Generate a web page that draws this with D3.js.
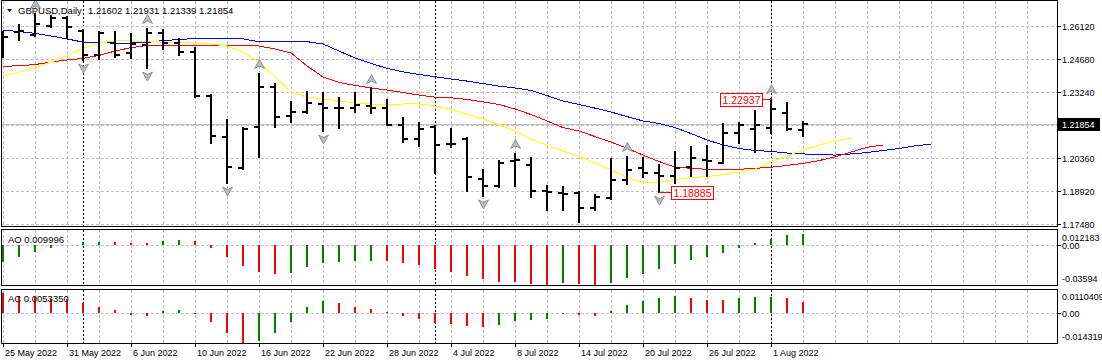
<!doctype html>
<html lang="en">
<head>
<meta charset="utf-8">
<script src="https://d3js.org/d3.v7.min.js"></script>
<style>
  body { margin: 0; background: #fff; }
  svg { display: block; background: #fff; font-family: "Liberation Sans", Arial, sans-serif; }
  .grid line { stroke: #c0c0c0; stroke-dasharray: 3,2; shape-rendering: crispEdges; }
  .sep line { stroke: #000; stroke-dasharray: 2,2; shape-rendering: crispEdges; }
  .frame { fill: none; stroke: #000; shape-rendering: crispEdges; }
  .bar line { stroke: #000; stroke-width: 2; shape-rendering: crispEdges; }
  .ma { fill: none; stroke-width: 1; shape-rendering: crispEdges; }
  .axis text { font-size: 9px; fill: #000; font-family: "Liberation Sans", Arial, sans-serif; }
  .axis line { stroke: #000; shape-rendering: crispEdges; }
</style>
</head>
<body>
<svg width="1102" height="364"></svg>
<script>
// trading days shown on the chart
const dates = [
  "2022-05-25","2022-05-26","2022-05-27","2022-05-30","2022-05-31",
  "2022-06-01","2022-06-02","2022-06-03","2022-06-06","2022-06-07","2022-06-08","2022-06-09","2022-06-10",
  "2022-06-13","2022-06-14","2022-06-15","2022-06-16","2022-06-17","2022-06-20","2022-06-21","2022-06-22",
  "2022-06-23","2022-06-24","2022-06-27","2022-06-28","2022-06-29","2022-06-30",
  "2022-07-01","2022-07-04","2022-07-05","2022-07-06","2022-07-07","2022-07-08","2022-07-11","2022-07-12",
  "2022-07-13","2022-07-14","2022-07-15","2022-07-18","2022-07-19","2022-07-20","2022-07-21","2022-07-22",
  "2022-07-25","2022-07-26","2022-07-27","2022-07-28","2022-07-29",
  "2022-08-01","2022-08-02","2022-08-03"
];

const open = [1.2561,1.2587,1.2574,1.2613,1.2648,1.2592,1.2487,1.2539,1.2496,1.2530,
  1.2583,1.2539,1.2500,1.2308,1.2129,1.1994,1.2173,1.2347,1.2221,1.2238,
  1.2273,1.2256,1.2255,1.2264,1.2256,1.2181,1.2120,1.2173,1.2098,1.2120,
  1.1946,1.1915,1.2024,1.2007,1.1893,1.1885,1.1885,1.1819,1.1863,1.1941,
  1.1992,1.1973,1.1959,1.1998,1.2029,1.2016,1.2146,1.2164,1.2168,1.2234,1.21602];
const high = [1.2587,1.2618,1.2666,1.2657,1.2653,1.2594,1.2585,1.2587,1.2578,1.2600,
  1.2596,1.2557,1.2517,1.2312,1.2203,1.2168,1.2404,1.2360,1.2282,1.2325,
  1.2321,1.2299,1.2321,1.2338,1.2290,1.2212,1.2190,1.2177,1.2164,1.2125,
  1.1985,1.2024,1.2055,1.2037,1.1915,1.1911,1.1889,1.1876,1.2033,1.2042,
  1.2037,1.2007,1.2064,1.2085,1.2090,1.2186,1.2190,1.2242,1.22937,1.2277,1.21931];
const low = [1.2478,1.2552,1.2570,1.2609,1.2561,1.2465,1.2469,1.2478,1.2474,1.2430,
  1.2513,1.2487,1.2304,1.2103,1.1928,1.1989,1.2042,1.2173,1.2194,1.2234,
  1.2155,1.2168,1.2238,1.2234,1.2181,1.2107,1.2090,1.1972,1.2085,1.1893,
  1.1872,1.1911,1.1915,1.1867,1.1810,1.1810,1.1758,1.1810,1.1858,1.1924,
  1.1954,1.18885,1.1928,1.1959,1.1959,1.2016,1.2103,1.2064,1.2146,1.2160,1.21339];
const close = [1.2565,1.2592,1.2622,1.2648,1.2609,1.2487,1.2583,1.2487,1.2535,1.2583,
  1.2539,1.2500,1.2308,1.2133,1.1998,1.2164,1.2347,1.2216,1.2238,1.2277,
  1.2256,1.2255,1.2269,1.2256,1.2181,1.2120,1.2164,1.2094,1.2100,1.1954,
  1.1915,1.2016,1.2029,1.1893,1.1890,1.1880,1.1819,1.1867,1.1941,1.1985,
  1.1973,1.1959,1.1994,1.2037,1.2024,1.2146,1.2181,1.2181,1.2251,1.2164,1.21854];

// alligator lines (jaw / teeth / lips), already shifted forward
const jaw = [1.2596,1.2589,1.2581,1.2570,1.2557,1.2543,1.2541,1.2539,1.2539,1.2541,
  1.2550,1.2554,1.2559,1.2559,1.2559,1.2557,1.2545,1.2545,1.2545,1.2545,
  1.2535,1.2504,1.2474,1.2450,1.2429,1.2413,1.2402,1.2392,1.2382,1.2373,
  1.2362,1.2351,1.2343,1.2332,1.2310,1.2286,1.2271,1.2255,1.2238,1.2218,
  1.2199,1.2188,1.2170,1.2144,1.2116,1.2094,1.2079,1.2070,1.2066,1.2059,
  1.2055,1.2053,1.2050,1.2055,1.2061,1.2070,1.2079,1.2090,1.2098];
const teeth = [1.2437,1.2440,1.2445,1.2456,1.2465,1.2472,1.2485,1.2504,1.2519,1.2528,
  1.2530,1.2530,1.2530,1.2530,1.2530,1.2528,1.2526,1.2513,1.2496,1.2439,
  1.2391,1.2367,1.2354,1.2343,1.2334,1.2323,1.2312,1.2303,1.2300,1.2293,
  1.2282,1.2271,1.2251,1.2227,1.2199,1.2170,1.2155,1.2131,1.2107,1.2080,
  1.2050,1.2022,1.1998,1.1992,1.1988,1.1988,1.1988,1.1992,1.1997,1.2005,
  1.2014,1.2026,1.2042,1.2063,1.2084,1.2094];
const lips = [1.2395,1.2413,1.2430,1.2456,1.2482,1.2516,1.2539,1.2548,1.2548,1.2546,
  1.2543,1.2541,1.2539,1.2535,1.2526,1.2500,1.2456,1.2391,1.2325,1.2303,
  1.2295,1.2286,1.2277,1.2273,1.2270,1.2273,1.2273,1.2264,1.2249,1.2229,
  1.2207,1.2183,1.2155,1.2120,1.2094,1.2068,1.2044,1.2016,1.1985,1.1953,
  1.1930,1.1933,1.1943,1.1952,1.1956,1.1965,1.1976,1.1989,1.2020,1.2046,
  1.2072,1.2094,1.2111,1.2123];

const fractalUp = [2, 9, 16, 23, 32, 39, 48];
const fractalDown = [5, 9, 14, 20, 30, 36, 41];

const ao = [-0.0150,-0.0105,-0.0060,-0.0024,0.0004,0.0030,0.0031,0.0028,0.0021,0.0019,
  0.0039,0.0048,0.0039,-0.0024,-0.0105,-0.0186,-0.0240,-0.0258,-0.0254,-0.0195,
  -0.0159,-0.0150,-0.0147,-0.0141,-0.0144,-0.0159,-0.0180,-0.0216,-0.0240,-0.0278,
  -0.0305,-0.0330,-0.0335,-0.0350,-0.0357,-0.0338,-0.0350,-0.03594,-0.0338,-0.0293,
  -0.0260,-0.0213,-0.0171,-0.0132,-0.0105,-0.0069,-0.0024,0.0021,0.0054,0.0090,0.009996];
const ac = [0.0098,0.0086,0.0079,0.0070,0.0068,0.0051,0.0029,0.0016,-0.0008,-0.0011,
  0.0013,0.0018,-0.0001,-0.0041,-0.0095,-0.014319,-0.0136,-0.0095,-0.0041,0.0031,
  0.0061,0.0049,0.0031,0.0021,0.0005,-0.0011,-0.0028,-0.0046,-0.0052,-0.0061,
  -0.0065,-0.0057,-0.0038,-0.0033,-0.0028,-0.0004,-0.0009,-0.0012,0.0011,0.0041,
  0.0061,0.0077,0.0085,0.0077,0.0065,0.0064,0.0077,0.0078,0.0079,0.0075,0.0053350];

const priceTicks = [1.2612, 1.2468, 1.2324, 1.2036, 1.1892, 1.1748];
const priceGrid = [1.2612, 1.2468, 1.2324, 1.2180, 1.2036, 1.1892, 1.1748];
const aoTicks = [0.012183, 0, -0.03594];
const aoTickText = ["0.012183", "0.00", "-0.03594"];
const acTicks = [0.0110409, 0, -0.014319];
const acTickText = ["0.0110409", "0.00", "-0.014319"];
const priceTags = [{ i: 48, price: 1.22937, side: "left" }, { i: 41, price: 1.18885, side: "right" }];

const svg = d3.select("svg");
const plotR = 1057;
const panels = {
  main: { top: 0.5, bottom: 226.5 },
  ao: { top: 229.5, bottom: 285.5 },
  ac: { top: 289.5, bottom: 343.5 }
};

const x = d3.scaleLinear().domain([0, 1]).range([3, 19]);
const y = d3.scaleLinear().domain([1.1748, 1.2612]).range([224.3, 26.3]);
const yAO = d3.scaleLinear().domain([-0.03594, 0.012183]).range([285, 231.4]);
const yAC = d3.scaleLinear().domain([-0.014319, 0.0110409]).range([342.5, 290.8]);

const parse = d3.timeParse("%Y-%m-%d");
const days = dates.map(parse);
const gridIdx = d3.range(0, 66, 2).filter(i => x(i) < plotR);
const sepIdx = d3.range(1, days.length).filter(i => days[i].getMonth() !== days[i - 1].getMonth());

const defs = svg.append("defs");
Object.entries(panels).forEach(([k, p]) => {
  defs.append("clipPath").attr("id", "clip-" + k)
    .append("rect").attr("x", 1).attr("y", p.top).attr("width", plotR - 1).attr("height", p.bottom - p.top);
});

// grid + separators in every panel
Object.entries(panels).forEach(([k, p]) => {
  const g = svg.append("g").attr("class", "grid").attr("clip-path", `url(#clip-${k})`);
  g.selectAll("line.v").data(gridIdx).join("line").attr("class", "v")
    .attr("x1", d => x(d) + 0.5).attr("x2", d => x(d) + 0.5)
    .attr("y1", p.top).attr("y2", p.bottom);
  svg.append("g").attr("class", "sep").selectAll("line").data(sepIdx).join("line")
    .attr("x1", d => x(d) + 0.5).attr("x2", d => x(d) + 0.5)
    .attr("y1", p.top).attr("y2", p.bottom);
});

const gridH = svg.append("g").attr("class", "grid");
gridH.selectAll("line").data(priceGrid).join("line")
  .attr("x1", 1).attr("x2", plotR).attr("y1", d => Math.round(y(d)) + 0.5).attr("y2", d => Math.round(y(d)) + 0.5);
gridH.append("line").attr("x1", 1).attr("x2", plotR)
  .attr("y1", Math.round(yAO(0)) + 0.5).attr("y2", Math.round(yAO(0)) + 0.5);
gridH.append("line").attr("x1", 1).attr("x2", plotR)
  .attr("y1", Math.round(yAC(0)) + 0.5).attr("y2", Math.round(yAC(0)) + 0.5);

// current price line
const last = close.length - 1;
svg.append("line").attr("x1", 1).attr("x2", plotR)
  .attr("y1", Math.round(y(close[last])) + 0.5).attr("y2", Math.round(y(close[last])) + 0.5)
  .attr("stroke", "#c0c0c0").attr("shape-rendering", "crispEdges");

const main = svg.append("g").attr("clip-path", "url(#clip-main)");

// alligator
[[jaw, "#0000ff"], [teeth, "#ff0000"], [lips, "#ffff00"]].forEach(([s, c]) => {
  main.append("path").attr("class", "ma").attr("stroke", c)
    .attr("d", d3.line().x((d, i) => x(i)).y(d => y(d))(s));
});

// OHLC bars
const bars = main.append("g").attr("class", "bar").selectAll("g").data(d3.range(close.length)).join("g");
bars.append("line").attr("x1", i => x(i)).attr("x2", i => x(i))
  .attr("y1", i => Math.round(y(high[i])) - 1).attr("y2", i => Math.round(y(low[i])) + 1);
bars.append("line").attr("x1", i => x(i) - 5).attr("x2", i => x(i))
  .attr("y1", i => Math.round(y(open[i]))).attr("y2", i => Math.round(y(open[i])));
bars.append("line").attr("x1", i => x(i)).attr("x2", i => x(i) + 5)
  .attr("y1", i => Math.round(y(close[i]))).attr("y2", i => Math.round(y(close[i])));

// fractals
const arrowUp = "M0,-4.5L5,4.5L0,2L-5,4.5Z";
const arrowDown = "M0,4.5L5,-4.5L0,-2L-5,-4.5Z";
main.selectAll("path.fu").data(fractalUp).join("path").attr("class", "fu")
  .attr("d", arrowUp).attr("transform", i => `translate(${x(i) + 0.5},${y(high[i]) - 10})`)
  .attr("fill", "#b4bcc4").attr("stroke", "#7c848c").attr("stroke-width", 0.8);
main.selectAll("path.fd").data(fractalDown).join("path").attr("class", "fd")
  .attr("d", arrowDown).attr("transform", i => `translate(${x(i) + 0.5},${y(low[i]) + 8.5})`)
  .attr("fill", "#b4bcc4").attr("stroke", "#7c848c").attr("stroke-width", 0.8);

// high/low price tags
priceTags.forEach(t => {
  const py = Math.round(y(t.price)) + 0.5;
  const bw = 42, bh = 13;
  const bx = t.side === "left" ? x(t.i) - 9 - bw : x(t.i) + 12;
  const lx = t.side === "left" ? [bx + bw, x(t.i)] : [x(t.i), bx];
  svg.append("line").attr("x1", lx[0]).attr("x2", lx[1]).attr("y1", py).attr("y2", py)
    .attr("stroke", "#ff0000").attr("shape-rendering", "crispEdges");
  svg.append("rect").attr("x", Math.round(bx) + 0.5).attr("y", Math.round(py - bh / 2) + 0.5)
    .attr("width", bw).attr("height", bh).attr("fill", "#fff").attr("stroke", "#ff0000")
    .attr("shape-rendering", "crispEdges");
  svg.append("text").attr("x", bx + bw / 2 + 0.5).attr("y", py + 4)
    .attr("text-anchor", "middle").attr("font-size", "10.5px").attr("fill", "#ff0000")
    .text(d3.format(".5f")(t.price));
});

// AO / AC histograms
function histo(vals, ys, clip) {
  svg.append("g").attr("clip-path", `url(#clip-${clip})`)
    .selectAll("line").data(vals).join("line")
    .attr("x1", (d, i) => x(i)).attr("x2", (d, i) => x(i))
    .attr("y1", Math.round(ys(0))).attr("y2", d => Math.round(ys(d)))
    .attr("stroke", (d, i) => (i === 0 ? (clip === "ao" ? 1 : -1) : d - vals[i - 1]) > 0 ? "#008000" : "#ff0000")
    .attr("stroke-width", 2).attr("shape-rendering", "crispEdges");
}
histo(ao, yAO, "ao");
histo(ac, yAC, "ac");

// frames
Object.values(panels).forEach(p => {
  svg.append("rect").attr("class", "frame").attr("x", 1.5).attr("y", p.top)
    .attr("width", plotR - 1).attr("height", p.bottom - p.top);
});

// right axes
const pAxis = svg.append("g").attr("class", "axis").attr("transform", `translate(${plotR},0)`)
  .call(d3.axisRight(y).tickValues(priceTicks).tickSize(4).tickPadding(1).tickFormat(d3.format(".5f")));
pAxis.select(".domain").remove();
pAxis.attr("font-size", null).attr("font-family", null);

function subAxis(ys, ticks, texts) {
  const g = svg.append("g").attr("class", "axis").attr("transform", `translate(${plotR},0)`)
    .call(d3.axisRight(ys).tickValues(ticks).tickSize(4).tickPadding(1).tickFormat((d, i) => texts[i]));
  g.select(".domain").remove();
  g.attr("font-size", null).attr("font-family", null);
  g.selectAll(".tick text").attr("y", (d, i) => i === 0 ? 6 : (i === 2 ? -6 : 0.5));
  g.selectAll(".tick line").attr("display", (d, i) => i === 1 ? null : "none");
}
subAxis(yAO, aoTicks, aoTickText);
subAxis(yAC, acTicks, acTickText);

// current price box
const cy = y(close[last]);
svg.append("rect").attr("x", 1058).attr("y", Math.round(cy) - 6).attr("width", 42).attr("height", 13).attr("fill", "#000");
svg.append("text").attr("x", 1062).attr("y", Math.round(cy) + 3.5).attr("font-size", "9px").attr("fill", "#fff")
  .text(d3.format(".5f")(close[last]));

// date axis
const fmt = d3.timeFormat("%-d %b %Y");
const dAxis = svg.append("g").attr("class", "axis").attr("transform", `translate(0,${panels.ac.bottom})`)
  .call(d3.axisBottom(x).tickValues(d3.range(0, days.length, 4)).tickSize(3).tickPadding(3).tickFormat(i => fmt(days[i])));
dAxis.select(".domain").remove();
dAxis.attr("font-size", null).attr("font-family", null);
dAxis.selectAll(".tick text").attr("text-anchor", "start").attr("x", 1.5);

// header and indicator titles
svg.append("path").attr("d", "M7,9L12,9L9.5,12Z").attr("fill", "#000");
svg.append("text").attr("x", 18).attr("y", 14).attr("font-size", "9.5px").text("GBPUSD,Daily");
svg.append("text").attr("x", 88).attr("y", 14).attr("font-size", "9.5px")
  .text([open[last], high[last], low[last], close[last]].map(d3.format(".5f")).join(" "));
svg.append("text").attr("x", 8).attr("y", 242.5).attr("font-size", "9.5px").text("AO " + d3.format(".6f")(ao[last]));
svg.append("text").attr("x", 8).attr("y", 302).attr("font-size", "9.5px").text("AC " + d3.format(".7f")(ac[last]));
</script>
</body>
</html>
